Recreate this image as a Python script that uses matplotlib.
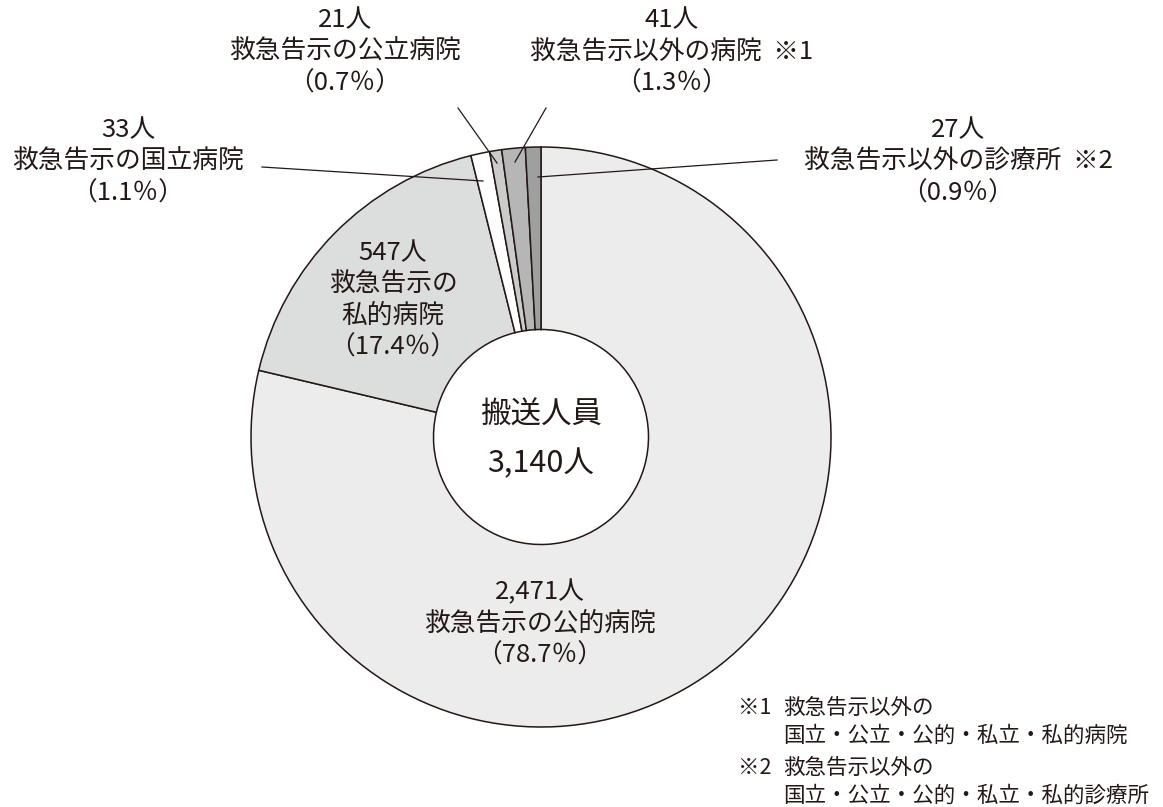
import matplotlib
matplotlib.use("Agg")
import matplotlib.pyplot as plt

plt.rcParams['font.family'] = ['Noto Sans CJK JP', 'DejaVu Sans']

# data, clockwise from 12 o'clock
names = ['救急告示の公的病院', '救急告示の私的病院', '救急告示の国立病院',
         '救急告示の公立病院', '救急告示以外の病院', '救急告示以外の診療所']
people = [2471, 547, 33, 21, 41, 27]
pcts = ['78.7', '17.4', '1.1', '0.7', '1.3', '0.9']
colors = ['#ececec', '#dcdddd', '#ffffff', '#cbcbcb', '#b6b6b6', '#9f9f9f']
total = 3140

ink = '#231815'
W, H = 1163, 807

fig = plt.figure(figsize=(W / 100, H / 100), dpi=100)
ax = fig.add_axes([0, 0, 1, 1])


def py(y):
    # pixel row -> data y
    return H - y


cx, cy, r_out, r_in = 541, 437, 290, 107.5
ax.pie(people, colors=colors, startangle=90, counterclock=False,
       center=(cx, py(cy)), radius=r_out, frame=True,
       wedgeprops=dict(width=r_out - r_in, edgecolor=ink, linewidth=1.1))
ax.set_xlim(0, W)
ax.set_ylim(0, H)
ax.set_aspect('equal')
ax.axis('off')

fs = 18.5
lab = dict(ha='center', va='center', fontsize=fs, color=ink, linespacing=1.27)

# outside labels
ax.text(128, py(162), f'{people[2]}人\n{names[2]}\n（{pcts[2]}％）', **lab)
ax.text(345, py(52), f'{people[3]}人\n{names[3]}\n（{pcts[3]}％）', **lab)
ax.text(672, py(52), f'{people[4]}人\n{names[4]}  ※1\n（{pcts[4]}％）', **lab)
ax.text(958, py(162), f'{people[5]}人\n{names[5]}  ※2\n（{pcts[5]}％）', **lab)

# inside labels
ax.text(393, py(300), f'{people[1]}人\n救急告示の\n私的病院\n（{pcts[1]}％）', **lab)
ax.text(540, py(624), f'{people[0]:,}人\n{names[0]}\n（{pcts[0]}％）', **lab)

# center
ax.text(cx, py(415), '搬送人員', ha='center', va='center', fontsize=22, color=ink)
ax.text(cx, py(464), f'{total:,}人', ha='center', va='center', fontsize=22, color=ink)

# leader lines
leaders = [((262, 167), (483, 181)),
           ((458, 108), (497, 163)),
           ((546, 108), (515, 162)),
           ((777, 160), (538, 177))]
for (x0, y0), (x1, y1) in leaders:
    ax.plot([x0, x1], [py(y0), py(y1)], color=ink, lw=0.9)

# footnotes
fn = dict(ha='left', va='center', fontsize=15.5, color=ink)
ax.text(738, py(708), '※1', **fn)
ax.text(783, py(708), '救急告示以外の', **fn)
ax.text(783, py(736), '国立・公立・公的・私立・私的病院', **fn)
ax.text(738, py(768), '※2', **fn)
ax.text(783, py(768), '救急告示以外の', **fn)
ax.text(783, py(796), '国立・公立・公的・私立・私的診療所', **fn)

fig.savefig('out.png', dpi=100)
